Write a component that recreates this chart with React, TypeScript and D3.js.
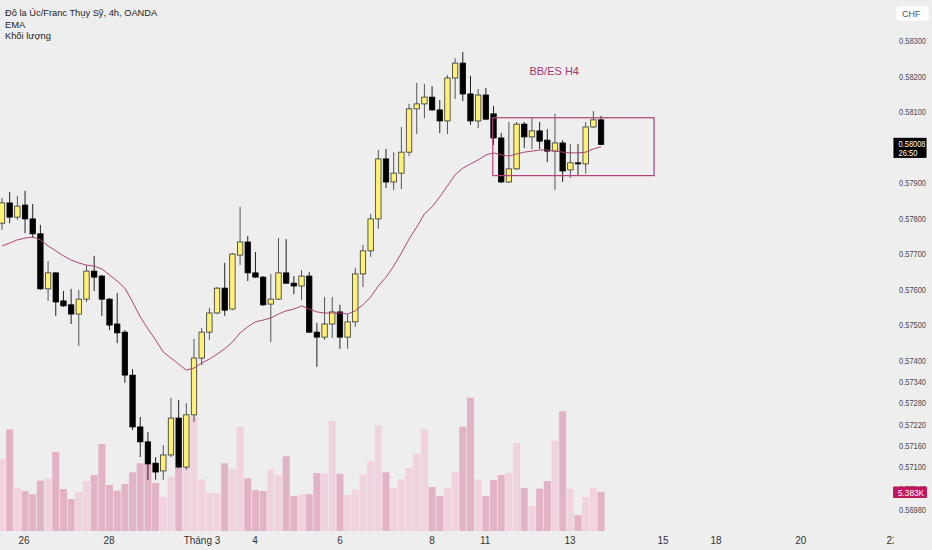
import React from 'react';
import * as d3 from 'd3';

const W = 932;
const H = 550;

// OHLC (AUD/CHF, 4h)
const opens = [.57786,.57843,.57803,.57837,.57798,.57756,.57601,.57646,.57567,.57556,
.57530,.57572,.57651,.57637,.57572,.57502,.57479,.57358,.57212,.57170,
.57110,.57088,.57133,.57237,.57099,.57246,.57406,.57479,.57533,.57603,
.57544,.57696,.57733,.57646,.57634,.57558,.57572,.57646,.57617,.57609,
.57637,.57479,.57465,.57502,.57536,.57465,.57508,.57643,.57708,.57798,
.57967,.57902,.57927,.57986,.58108,.58122,.58141,.58105,.58074,.58195,
.58237,.58150,.58074,.58147,.58094,.58026,.57902,.57939,.58065,.58029,
.58046,.58020,.57989,.58012,.57936,.57956,.57953,.58057,.58077];
const highs = [.57857,.57874,.57863,.57877,.57840,.57781,.57679,.57648,.57595,.57601,
.57598,.57668,.57694,.57640,.57575,.57589,.57485,.57375,.57240,.57198,
.57127,.57161,.57294,.57288,.57279,.57460,.57491,.57547,.57606,.57674,
.57702,.57832,.57750,.57705,.57637,.57643,.57744,.57741,.57637,.57654,
.57648,.57505,.57578,.57578,.57556,.57530,.57660,.57725,.57812,.57992,
.57995,.57986,.58057,.58122,.58181,.58178,.58172,.58133,.58203,.58251,
.58268,.58201,.58164,.58167,.58116,.58040,.58071,.58071,.58071,.58085,
.58071,.58051,.58094,.58020,.58009,.58009,.58071,.58102,.58088];
const lows = [.57767,.57786,.57795,.57758,.57744,.57598,.57567,.57525,.57550,.57502,
.57440,.57564,.57595,.57525,.57485,.57448,.57336,.57203,.57127,.57063,
.57063,.57063,.57127,.57096,.57091,.57226,.57386,.57457,.57530,.57525,
.57541,.57668,.57623,.57632,.57553,.57451,.57570,.57615,.57586,.57570,
.57477,.57381,.57457,.57463,.57432,.57432,.57494,.57606,.57691,.57770,
.57885,.57879,.57882,.57975,.58037,.58082,.58102,.58040,.58037,.58136,
.58130,.58063,.58054,.58077,.58006,.57899,.57899,.57936,.57998,.57995,
.57995,.57958,.57879,.57902,.57913,.57922,.57925,.58054,.58006];
const closes = [.57843,.57803,.57834,.57798,.57756,.57601,.57646,.57564,.57553,.57530,
.57572,.57651,.57634,.57572,.57499,.57477,.57358,.57212,.57170,.57108,
.57085,.57133,.57237,.57099,.57246,.57406,.57479,.57533,.57603,.57541,
.57699,.57733,.57646,.57634,.57556,.57572,.57646,.57617,.57609,.57637,
.57479,.57465,.57502,.57536,.57465,.57508,.57643,.57708,.57798,.57967,
.57902,.57927,.57986,.58108,.58122,.58141,.58105,.58074,.58195,.58237,
.58150,.58074,.58147,.58079,.58026,.57902,.57939,.58065,.58029,.58046,
.58017,.57989,.58012,.57933,.57956,.57953,.58057,.58077,.58008];
const emaValues = [.57722,.57730,.57739,.57744,.57747,.57739,.57722,.57708,.57694,.57682,
.57674,.57668,.57665,.57657,.57640,.57623,.57603,.57564,.57522,.57488,
.57457,.57423,.57406,.57389,.57372,.57378,.57392,.57403,.57417,.57432,
.57451,.57477,.57494,.57508,.57513,.57519,.57530,.57539,.57544,.57553,
.57544,.57536,.57533,.57533,.57533,.57530,.57539,.57556,.57578,.57609,
.57634,.57665,.57702,.57741,.57775,.57812,.57832,.57860,.57891,.57922,
.57941,.57953,.57964,.57978,.57984,.57978,.57975,.57981,.57986,.57989,
.57992,.57992,.57989,.57986,.57984,.57984,.57986,.57995,.58001];
const volumes = [9864,13933,5932,5480,5028,6891,7165,10823,5754,4384,
5384,6850,7672,11919,6302,5521,6439,8042,9275,9210,
6576,4699,7439,8809,8760,15659,7083,5206,5150,9275,
8494,14289,7220,5617,5480,8398,7672,10234,4795,5028,
5028,7946,7900,15070,7850,4932,5658,7713,9590,14481,
8042,5891,7083,8672,10590,13974,6028,4795,5850,8124,
14289,18262,7028,4795,6987,7672,7946,12056,5891,3425,
5795,6850,12371,16399,5795,2192,4658,5891,5383];

const priceTicks = [0.583, 0.582, 0.581, 0.579, 0.578, 0.577, 0.576, 0.575, 0.574, 0.5734, 0.5728, 0.5722, 0.5716, 0.571, 0.5704, 0.5698];
const timeTickIdx = [2.86, 13.93, 26.04, 32.94, 44.0, 56.0, 62.9, 73.96, 86.07, 92.97, 104.0, 115.9];
const timeTickLabels = ['26', '28', 'Tháng 3', '4', '6', '8', '11', '13', '15', '18', '20', '22'];

const boxStart = 63.9, boxEnd = 84.9, boxTop = 0.58083, boxBottom = 0.57920;
const noteIdx = 71.9, notePrice = 0.58215, noteText = 'BB/ES H4';
const lastPrice = 0.58008, lastVolume = '5.383K', countdown = '26:50';

const FONT = '"Liberation Sans", Arial, sans-serif';

export default function App() {
  const x = d3.scaleLinear().domain([0, 116]).range([2, 892.9]);
  const y = d3.scaleLinear().domain([0.5698, 0.583]).range([509.3, 40.7]);
  const yv = d3.scaleLinear().domain([0, 20000]).range([531, 531 - 20000 / 137]);
  const emaPath = d3.line<number>().x((_, i) => x(i)).y((d) => y(d))(emaValues) || '';
  const bodyW = 5.4;
  const volW = 7;

  return (
    <div style={{ position: 'fixed', left: 0, top: 0 }}>
      <svg width={W} height={H} style={{ display: 'block', fontFamily: FONT }}>
        <defs>
          <clipPath id="pane"><rect x={0} y={0} width={893.5} height={H} /></clipPath>
        </defs>
        <rect x={0} y={0} width={W} height={H} fill="#eeeeee" />
        <g clipPath="url(#pane)">
          {volumes.map((v, i) => (
            <rect key={'v' + i} x={x(i) - volW / 2} y={yv(v)} width={volW} height={yv(0) - yv(v)}
              fill={closes[i] >= opens[i] ? '#f1d3df' : '#e2b2c6'} />
          ))}
          {opens.map((o, i) => {
            const c = closes[i];
            const up = c >= o;
            const top = y(Math.max(o, c));
            const bot = y(Math.min(o, c));
            const cx = x(i);
            return (
              <g key={'c' + i}>
                <line x1={cx} x2={cx} y1={y(highs[i])} y2={y(lows[i])} stroke={up ? '#555' : '#222'} strokeWidth={1} />
                <rect x={cx - bodyW / 2} y={top} width={bodyW} height={Math.max(1, bot - top)}
                  fill={up ? '#fff176' : '#000'} stroke={up ? '#333' : '#000'} strokeWidth={0.8} />
              </g>
            );
          })}
          <path d={emaPath} fill="none" stroke="#ad4475" strokeWidth={1} />
          <rect x={x(boxStart)} y={y(boxTop)} width={x(boxEnd) - x(boxStart)} height={y(boxBottom) - y(boxTop)}
            fill="none" stroke="#b3417a" strokeWidth={1.2} />
          <text x={x(noteIdx)} y={y(notePrice) + 4} textAnchor="middle" fontSize={11} fill="#a8356f">{noteText}</text>
          {timeTickIdx.map((t, i) => (
            <text key={'t' + i} x={x(t)} y={543.5} textAnchor="middle" fontSize={10} fill="#333">{timeTickLabels[i]}</text>
          ))}
        </g>
        {priceTicks.map((p) => (
          <text key={'p' + p} x={899} y={y(p) + 3.5} fontSize={9} fill="#4a4a4a"
            textLength={27} lengthAdjust="spacingAndGlyphs">{p.toFixed(5)}</text>
        ))}
        <rect x={896.5} y={6.5} width={32} height={14} fill="#fff" rx={1.5} />
        <text x={902} y={17} fontSize={9} fill="#555">CHF</text>
        <rect x={893} y={y(lastPrice) - 7} width={34} height={21} fill="#000" stroke="#fff" strokeWidth={0.8} rx={1} />
        <text x={898.5} y={y(lastPrice) + 2.5} fontSize={9} fill="#fff" textLength={27} lengthAdjust="spacingAndGlyphs">{lastPrice.toFixed(5)}</text>
        <text x={898.5} y={y(lastPrice) + 11.5} fontSize={9} fill="#fff" textLength={19} lengthAdjust="spacingAndGlyphs">{countdown}</text>
        <rect x={893} y={486.5} width={34} height={11.5} fill="#c2185b" rx={1} />
        <text x={898} y={495.5} fontSize={9} fill="#fff" textLength={26} lengthAdjust="spacingAndGlyphs">{lastVolume}</text>
        <text x={5} y={16} fontSize={9.3} fill="#222">Đô la Úc/Franc Thụy Sỹ, 4h, OANDA</text>
        <text x={5} y={27.5} fontSize={9.3} fill="#222">EMA</text>
        <text x={5} y={39} fontSize={9.3} fill="#222">Khối lượng</text>
      </svg>
    </div>
  );
}
